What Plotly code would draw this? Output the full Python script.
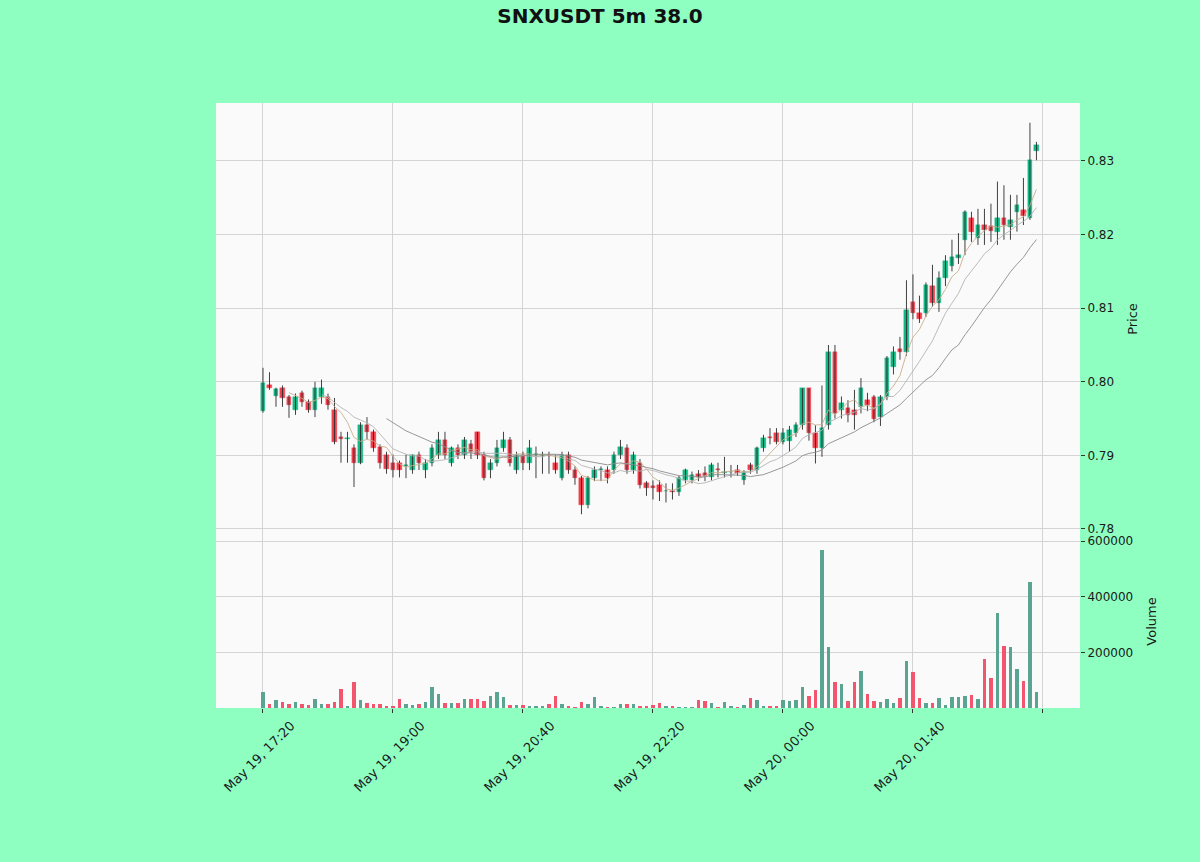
import pandas as pd
import plotly.graph_objects as go

start_time = "2023-05-19 17:20"
title_text = "SNXUSDT 5m 38.0"

opens = [0.7960,0.7996,0.7981,0.7992,0.7979,0.7962,0.7985,0.7972,0.7962,0.7979,
         0.7979,0.7962,0.7925,0.7922,0.7910,0.7890,0.7941,0.7932,0.7912,0.7900,
         0.7890,0.7889,0.7885,0.7880,0.7901,0.7880,0.7889,0.7901,0.7921,0.7889,
         0.7910,0.7901,0.7915,0.7932,0.7901,0.7880,0.7889,0.7910,0.7921,0.7880,
         0.7901,0.7889,0.7901,0.7899,0.7901,0.7889,0.7869,0.7901,0.7880,0.7869,
         0.7832,0.7869,0.7880,0.7880,0.7880,0.7901,0.7910,0.7880,0.7889,0.7862,
         0.7858,0.7860,0.7851,0.7852,0.7850,0.7866,0.7866,0.7875,0.7876,0.7870,
         0.7882,0.7876,0.7877,0.7880,0.7866,0.7887,0.7880,0.7910,0.7925,0.7930,
         0.7918,0.7919,0.7930,0.7941,0.7991,0.7930,0.7910,0.7941,0.8040,0.7962,
         0.7964,0.7962,0.7966,0.7975,0.7980,0.7952,0.7980,0.8020,0.8045,0.8040,
         0.8109,0.8093,0.8093,0.8130,0.8107,0.8141,0.8157,0.8168,0.8193,0.8222,
         0.8195,0.8213,0.8211,0.8204,0.8222,0.8210,0.8231,0.8233,0.8222,0.8313]
highs = [0.8019,0.8013,0.7992,0.7995,0.7982,0.7984,0.7988,0.7976,0.8000,0.8003,
         0.7984,0.7978,0.7932,0.7932,0.7915,0.7945,0.7952,0.7935,0.7915,0.7905,
         0.7901,0.7893,0.7901,0.7901,0.7905,0.7895,0.7915,0.7932,0.7932,0.7912,
         0.7915,0.7925,0.7921,0.7932,0.7905,0.7895,0.7921,0.7932,0.7925,0.7905,
         0.7905,0.7921,0.7912,0.7905,0.7905,0.7901,0.7905,0.7905,0.7885,0.7872,
         0.7872,0.7885,0.7885,0.7885,0.7905,0.7921,0.7915,0.7905,0.7895,0.7865,
         0.7866,0.7866,0.7862,0.7862,0.7872,0.7882,0.7878,0.7880,0.7885,0.7890,
         0.7890,0.7898,0.7887,0.7887,0.7880,0.7890,0.7912,0.7928,0.7937,0.7937,
         0.7937,0.7940,0.7945,0.7991,0.7991,0.7941,0.7995,0.8050,0.8050,0.7980,
         0.7975,0.7989,0.8005,0.7985,0.7982,0.7982,0.8035,0.8048,0.8061,0.8138,
         0.8146,0.8117,0.8135,0.8159,0.8150,0.8172,0.8193,0.8202,0.8233,0.8231,
         0.8235,0.8235,0.8242,0.8272,0.8267,0.8254,0.8254,0.8277,0.8352,0.8326]
lows = [0.7958,0.7989,0.7966,0.7966,0.7951,0.7955,0.7966,0.7958,0.7952,0.7970,
        0.7962,0.7915,0.7890,0.7890,0.7857,0.7888,0.7922,0.7905,0.7882,0.7875,
        0.7870,0.7870,0.7869,0.7875,0.7880,0.7869,0.7885,0.7895,0.7895,0.7885,
        0.7895,0.7895,0.7895,0.7895,0.7866,0.7869,0.7885,0.7905,0.7885,0.7875,
        0.7880,0.7880,0.7869,0.7875,0.7875,0.7875,0.7866,0.7875,0.7860,0.7820,
        0.7828,0.7865,0.7865,0.7862,0.7875,0.7895,0.7875,0.7875,0.7855,0.7845,
        0.7840,0.7838,0.7836,0.7840,0.7845,0.7862,0.7862,0.7865,0.7865,0.7866,
        0.7870,0.7870,0.7870,0.7872,0.7860,0.7875,0.7875,0.7905,0.7915,0.7915,
        0.7915,0.7905,0.7925,0.7935,0.7920,0.7889,0.7898,0.7935,0.7950,0.7950,
        0.7945,0.7935,0.7957,0.7960,0.7945,0.7940,0.7975,0.8010,0.8030,0.8035,
        0.8085,0.8080,0.8088,0.8102,0.8095,0.8130,0.8150,0.8160,0.8172,0.8190,
        0.8186,0.8186,0.8190,0.8186,0.8193,0.8193,0.8204,0.8213,0.8220,0.8301]
closes = [0.7998,0.7992,0.7990,0.7978,0.7968,0.7979,0.7972,0.7962,0.7992,0.7992,
          0.7968,0.7918,0.7922,0.7924,0.7890,0.7941,0.7932,0.7910,0.7890,0.7882,
          0.7880,0.7880,0.7887,0.7901,0.7889,0.7889,0.7910,0.7921,0.7901,0.7910,
          0.7901,0.7921,0.7905,0.7901,0.7869,0.7889,0.7910,0.7921,0.7889,0.7901,
          0.7889,0.7910,0.7902,0.7901,0.7899,0.7880,0.7901,0.7880,0.7869,0.7833,
          0.7869,0.7880,0.7881,0.7869,0.7901,0.7912,0.7880,0.7901,0.7860,0.7855,
          0.7856,0.7850,0.7852,0.7850,0.7869,0.7880,0.7873,0.7870,0.7872,0.7887,
          0.7880,0.7877,0.7878,0.7876,0.7878,0.7880,0.7910,0.7924,0.7924,0.7918,
          0.7930,0.7934,0.7941,0.7991,0.7930,0.7910,0.7937,0.8040,0.7957,0.7971,
          0.7955,0.7955,0.7991,0.7969,0.7950,0.7980,0.8032,0.8040,0.8040,0.8098,
          0.8093,0.8085,0.8131,0.8107,0.8141,0.8164,0.8170,0.8172,0.8231,0.8204,
          0.8213,0.8206,0.8205,0.8222,0.8213,0.8220,0.8240,0.8225,0.8301,0.8322]
volumes = [57000,15000,29500,21000,15000,21000,15000,11500,33000,15000,
           15000,21000,69000,9000,93000,29500,17300,15000,15000,9000,
           9000,33000,15000,11500,15000,21000,77500,51000,17300,17300,
           17300,33000,33000,33000,27000,45000,57000,39000,11500,11500,
           11500,9000,9000,9000,15000,45000,15000,9000,4300,21000,
           15000,39000,9000,4300,4300,15000,15000,15000,9000,9000,
           11500,17000,9000,9000,4300,4300,4300,29500,27000,19000,
           2500,21000,9000,4300,11500,36000,29500,9000,9000,9000,
           31000,27000,31000,75000,45000,66600,567600,221600,93000,87000,
           27000,93000,132800,51000,25000,21000,33000,17000,36000,168800,
           129000,36000,17000,19000,36000,11500,41400,41400,45000,48600,
           33000,177000,107000,341700,225000,221600,141000,99000,453000,57000]

ma_periods = [5, 10, 20]
ma_colors = ["#c8b08c", "#b4b4b4", "#8c8c8c"]

tick_times = ["2023-05-19 17:20", "2023-05-19 19:00", "2023-05-19 20:40",
              "2023-05-19 22:20", "2023-05-20 00:00", "2023-05-20 01:40",
              "2023-05-20 03:20"]
tick_labels = ["May 19, 17:20", "May 19, 19:00", "May 19, 20:40",
               "May 19, 22:20", "May 20, 00:00", "May 20, 01:40", ""]
price_ticks = [0.78, 0.79, 0.80, 0.81, 0.82, 0.83]
volume_ticks = [200000, 400000, 600000]

UP = "#14b886"
DOWN = "#f23f4c"
VUP = "#5aa592"
VDOWN = "#f2566f"

times = pd.date_range(start_time, periods=len(closes), freq="5min")
df = pd.DataFrame({"open": opens, "high": highs, "low": lows,
                   "close": closes, "volume": volumes}, index=times)
up = df["close"] >= df["open"]
step_ms = 5 * 60 * 1000

fig = go.Figure()

# wicks
wx, wy = [], []
for t, lo, hi in zip(df.index, df["low"], df["high"]):
    wx += [t, t, None]
    wy += [lo, hi, None]
fig.add_trace(go.Scatter(x=wx, y=wy, mode="lines", xaxis="x2", yaxis="y",
                         line=dict(color="#2b2b2b", width=0.9),
                         hoverinfo="skip", showlegend=False))

# bodies
body_base = df[["open", "close"]].min(axis=1)
body_h = (df["close"] - df["open"]).abs().clip(lower=0.00004)
body_col = [UP if u else DOWN for u in up]
fig.add_trace(go.Bar(x=df.index, y=body_h, base=body_base, xaxis="x2", yaxis="y",
                     width=0.7 * step_ms,
                     marker=dict(color=body_col, line=dict(color=body_col, width=0.4)),
                     showlegend=False))

# moving averages
for p, c in zip(ma_periods, ma_colors):
    ma = df["close"].rolling(p).mean()
    fig.add_trace(go.Scatter(x=df.index, y=ma, mode="lines", xaxis="x2", yaxis="y",
                             line=dict(color=c, width=0.9), showlegend=False))

# volume
vcol = [VUP if u else VDOWN for u in up]
fig.add_trace(go.Bar(x=df.index, y=df["volume"], xaxis="x", yaxis="y2",
                     width=0.55 * step_ms, marker=dict(color=vcol, line=dict(width=0)),
                     showlegend=False))

x_start = times[0] - pd.Timedelta(minutes=5 * 7.23)
x_end = times[0] + pd.Timedelta(minutes=5 * 125.7)

font_family = "DejaVu Sans"
grid_c = "#d4d4d4"
split = (708 - 535) / (708 - 103)

fig.update_layout(
    width=1200, height=862,
    paper_bgcolor="#8effc1", plot_bgcolor="#fafafa",
    margin=dict(l=216, r=120, t=103, b=154, autoexpand=False),
    font=dict(family=font_family, size=12.5, color="#1a1a1a"),
    title=dict(text="<b>" + title_text + "</b>", x=0.5, xanchor="center",
               y=1 - 16 / 862, yanchor="middle",
               font=dict(size=20, family=font_family, color="#111111")),
    bargap=0, barmode="overlay", showlegend=False,
    xaxis=dict(domain=[0, 1], anchor="y2", type="date",
               range=[x_start, x_end], tickmode="array",
               tickvals=tick_times, ticktext=tick_labels, tickangle=-45,
               ticklabelshift=28,
               ticks="outside", ticklen=4, tickcolor="#333",
               showgrid=True, gridcolor=grid_c, gridwidth=1,
               zeroline=False, showline=False, tickfont=dict(size=13)),
    xaxis2=dict(domain=[0, 1], anchor="y", type="date", matches="x",
                range=[x_start, x_end], tickmode="array",
                tickvals=tick_times, showticklabels=False,
                showgrid=True, gridcolor=grid_c, gridwidth=1,
                zeroline=False, showline=False),
    yaxis=dict(domain=[split, 1], anchor="x2", side="right",
               range=[0.77918, 0.83788], tickmode="array",
               tickvals=price_ticks, ticktext=[f"{v:.2f}" for v in price_ticks],
               ticks="outside", ticklen=4, tickcolor="#333",
               tickfont=dict(size=12),
               showgrid=True, gridcolor=grid_c, gridwidth=1, zeroline=False,
               title=dict(text="Price", standoff=14, font=dict(size=13))),
    yaxis2=dict(domain=[0, split], anchor="x", side="right",
                range=[750, 622000], tickmode="array",
                tickvals=volume_ticks, ticktext=[str(v) for v in volume_ticks],
                ticks="outside", ticklen=4, tickcolor="#333",
                tickfont=dict(size=12),
                showgrid=True, gridcolor=grid_c, gridwidth=1, zeroline=False,
                title=dict(text="Volume", standoff=14, font=dict(size=13))),
)

fig.write_html("out.html", config={"displayModeBar": False})

# remove the browser's default page margin so the figure sits at (0, 0)
with open("out.html", "r", encoding="utf-8") as f:
    html = f.read()
html = html.replace("<head>", "<head><style>html,body{margin:0;padding:0;overflow:hidden;}</style>", 1)
with open("out.html", "w", encoding="utf-8") as f:
    f.write(html)
